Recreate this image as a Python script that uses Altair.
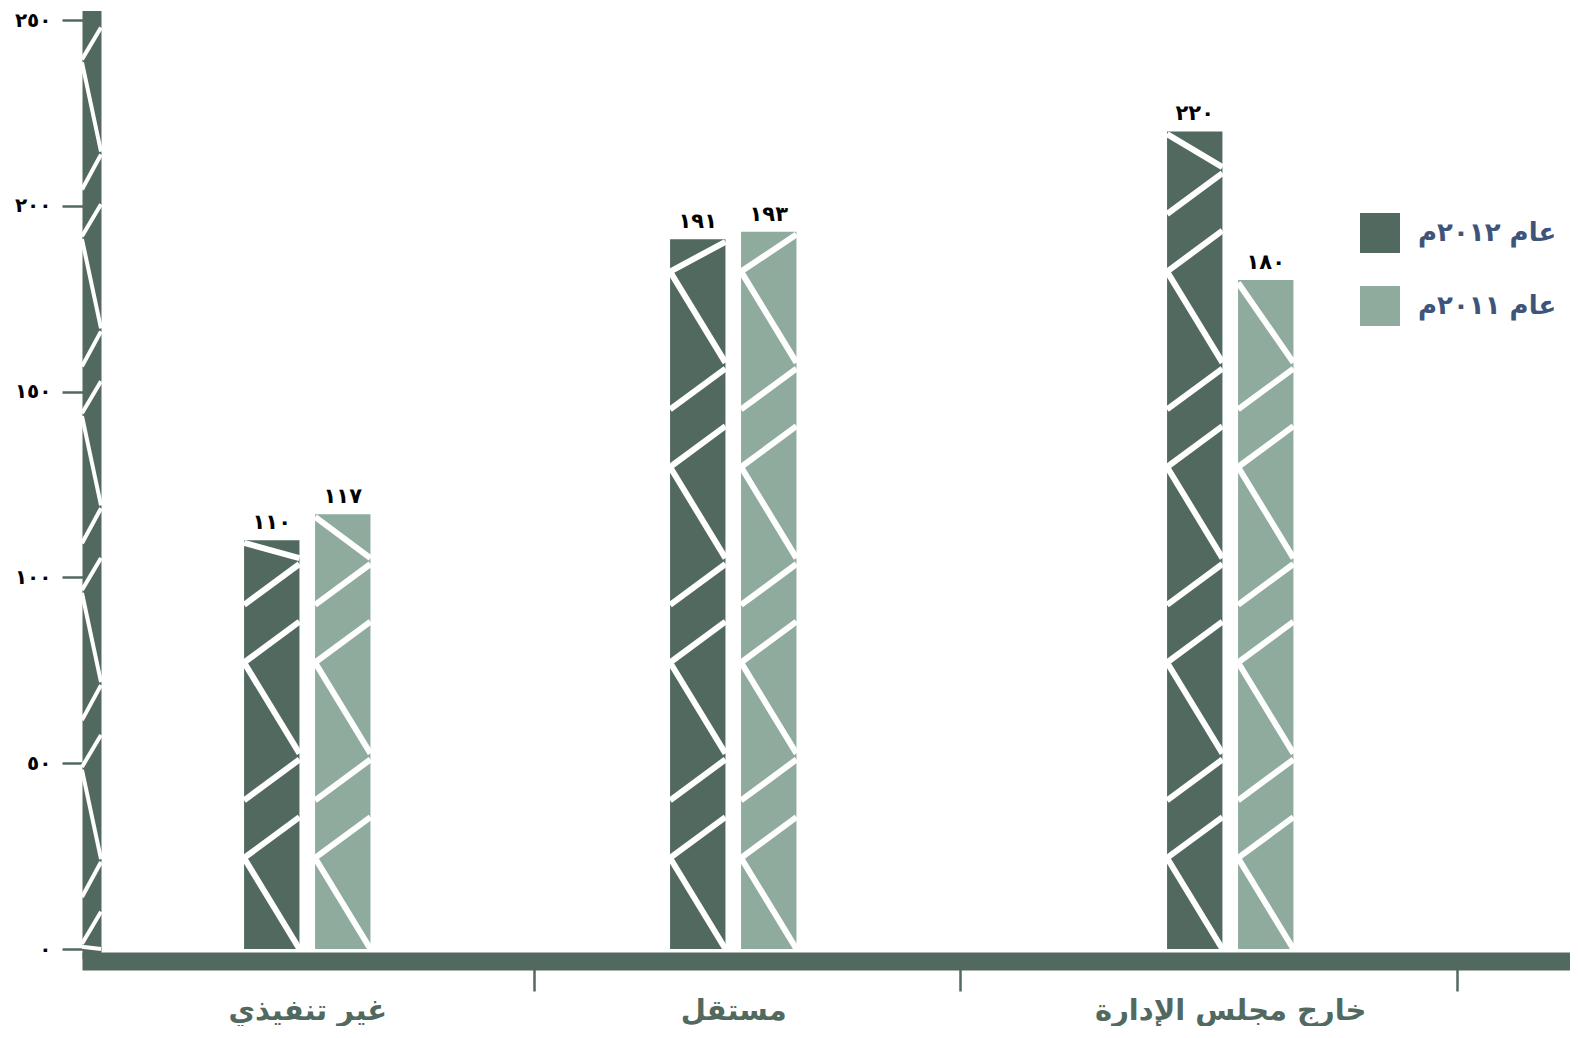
import altair as alt
import pandas as pd

# ---- data ----
categories = ["غير تنفيذي", "مستقل", "خارج مجلس الإدارة"]
series = ["عام ٢٠١٢م", "عام ٢٠١١م"]
values_2012 = [110, 191, 220]
values_2011 = [117, 193, 180]
y_ticks = [0, 50, 100, 150, 200, 250]

DARK = "#52695f"
LIGHT = "#8fab9e"
FONT = "DejaVu Sans"
Y_MAX = 250

AR_DIGITS = str.maketrans("0123456789", "٠١٢٣٤٥٦٧٨٩")

# layout: a band scale of equal slots; each category uses two neighbouring slots
N_SLOTS = 20
FIRST_SLOT = [2, 8, 15]
slot_domain = [f"·{k}" for k in range(N_SLOTS)]
for c, k in zip(categories, FIRST_SLOT):
    slot_domain[k] = c
    slot_domain[k + 1] = c + "·2"

rows = []
for c, v12, v11 in zip(categories, values_2012, values_2011):
    rows.append({"slot": c, "series": series[0], "value": v12,
                 "label": str(v12).translate(AR_DIGITS)})
    rows.append({"slot": c + "·2", "series": series[1], "value": v11,
                 "label": str(v11).translate(AR_DIGITS)})
df = pd.DataFrame(rows)

# decorative zig-zag (white lines) inside every bar, repeated from the bottom
PERIOD = 52.6
MOTIF = [(24.5, 0.0), (24.5, 35.5), (40.0, 51.0)]  # (left end, right end) in value units
pat = []
for r in rows:
    v = r["value"]
    k = 0
    while k * PERIOD < v:
        b = k * PERIOD
        for yl, yr in MOTIF:
            yl, yr = b + yl, b + yr
            if min(yl, yr) >= v - 2:
                continue
            pat.append({"slot": r["slot"], "yl": min(yl, v - 0.7), "yr": min(yr, v - 0.7)})
        k += 1
pat_df = pd.DataFrame(pat)

# decorative zig-zag on the vertical axis band
AX_PERIOD = 47.6
AX_MOTIF = [(0.0, -24.0), (-34.2, -24.8), (-46.8, -38.2)]  # (left end, right end)
ax_pat = []
k = 0
while k * AX_PERIOD < Y_MAX + 50:
    top = 0.6 + k * AX_PERIOD
    for yl, yr in AX_MOTIF:
        yl, yr = top + yl, top + yr
        if max(yl, yr) <= 0 or min(yl, yr) >= Y_MAX:
            continue
        ax_pat.append({"yl": min(max(yl, 0), Y_MAX), "yr": min(max(yr, 0), Y_MAX)})
    k += 1
ax_df = pd.DataFrame(ax_pat)

x_scale = alt.Scale(domain=slot_domain, paddingInner=0.22, paddingOuter=0.589, align=0.24)
y_scale = alt.Scale(domain=[0, Y_MAX], nice=False, zero=True)
color_scale = alt.Scale(domain=series, range=[DARK, LIGHT])

digit_expr = "datum.label"
for a, b in zip("0123456789", "٠١٢٣٤٥٦٧٨٩"):
    digit_expr = f"replace({digit_expr}, regexp('{a}', 'g'), '{b}')"

x_enc = alt.X("slot:N", scale=x_scale, sort=slot_domain,
              axis=alt.Axis(title=None, labelAngle=0, values=categories, offset=12,
                            domainColor=DARK, domainWidth=18, tickColor=DARK,
                            tickWidth=2.5, tickSize=30, tickOffset=262, labelOffset=-226.5,
                            labelFont=FONT, labelFontSize=29, labelFontWeight="bold",
                            labelColor=DARK, labelPadding=5, labelLimit=600))
y_enc = alt.Y("value:Q", scale=y_scale,
              axis=alt.Axis(title=None, values=y_ticks, offset=-9.5, domainColor=DARK,
                            domainWidth=19, domainCap="square", tickColor=DARK,
                            tickWidth=2.5, tickSize=29.5, labelFont=FONT, labelFontSize=20,
                            labelFontWeight="bold", labelColor="black", labelPadding=11,
                            labelExpr=digit_expr, grid=False))

base = alt.Chart(df)

bars = base.mark_bar().encode(
    x=x_enc,
    y=y_enc,
    color=alt.Color("series:N", scale=color_scale, sort=series,
                    legend=alt.Legend(title=None, orient="none", legendX=1278, legendY=193,
                                      symbolType="square", symbolSize=1600,
                                      symbolStrokeWidth=0, symbolOpacity=1,
                                      labelFont=FONT, labelFontSize=26,
                                      labelFontWeight="bold", labelColor="#3e5579",
                                      labelOffset=18, rowPadding=33, padding=0,
                                      labelLimit=400)),
)

pattern = alt.Chart(pat_df).mark_rule(color="white", strokeWidth=6).encode(
    x=alt.X("slot:N", bandPosition=0, sort=slot_domain),
    x2=alt.X2("slot", bandPosition=1),
    y=alt.Y("yl:Q"),
    y2=alt.Y2("yr"),
)

axis_pattern = alt.Chart(ax_df).mark_rule(color="white", strokeWidth=4).encode(
    x=alt.value(0),
    x2=alt.value(19),
    y=alt.Y("yl:Q"),
    y2=alt.Y2("yr"),
)

labels = base.mark_text(baseline="bottom", dy=-7, font=FONT, fontSize=21,
                        fontWeight="bold", color="black").encode(
    x=alt.X("slot:N", sort=slot_domain),
    y="value:Q",
    text="label:N",
)

chart = alt.layer(bars, pattern, axis_pattern, labels).properties(
    width=1488, height=929,
    padding={"left": 74, "top": 12, "right": 0, "bottom": 77},
    autosize=alt.AutoSizeParams(type="none"),
).configure_view(stroke=None)

chart.save("out.html", embed_options={"renderer": "svg", "actions": False})
